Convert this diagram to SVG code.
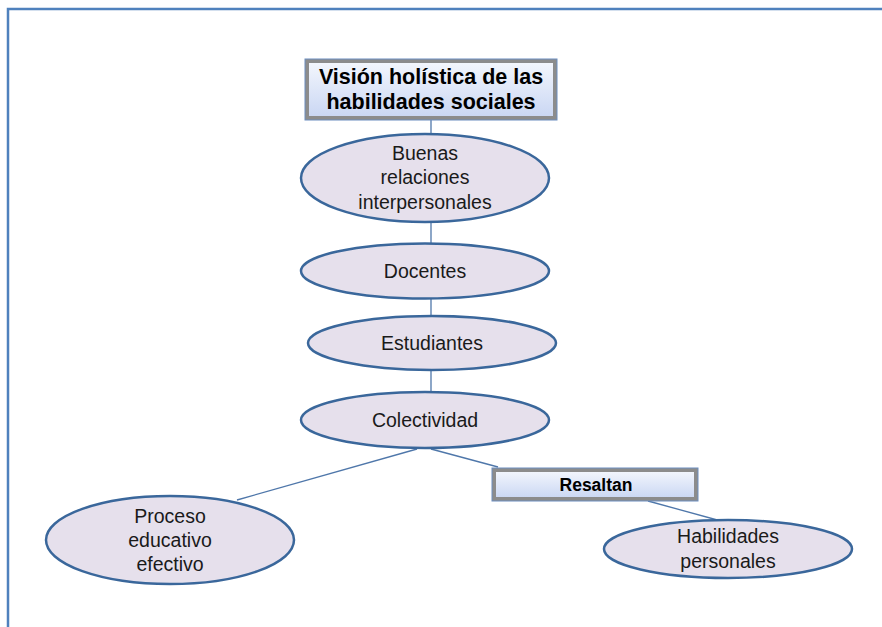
<svg xmlns="http://www.w3.org/2000/svg" width="882" height="627" viewBox="0 0 882 627">
<defs>
<linearGradient id="boxg" x1="0" y1="0" x2="0" y2="1">
<stop offset="0" stop-color="#f4f7fd"/>
<stop offset="1" stop-color="#c9d6f3"/>
</linearGradient>
<style>
.frame{fill:none;stroke:#4f81bd;stroke-width:2.5}
.ell{fill:#e6e0ec;stroke:#3a679b;stroke-width:2.5}
.box{fill:url(#boxg);stroke:#8c8c8c;stroke-width:4}
.boxin{fill:none;stroke:#6c8ebf;stroke-width:1}
.conn line{stroke:#4f77aa;stroke-width:1.3}
.t{font-family:"Liberation Sans",Arial,sans-serif;font-size:19.5px;fill:#1a1a1a;text-anchor:middle}
.tb{font-family:"Liberation Sans",Arial,sans-serif;font-weight:bold;fill:#000;text-anchor:middle}
</style>
</defs>
<rect width="882" height="627" fill="#fff"/>
<path class="frame" d="M8,627 V9 H882"/>
<g class="conn" id="connectors">
<line x1="431" y1="119" x2="431" y2="134"/>
<line x1="431" y1="222" x2="431" y2="244"/>
<line x1="431" y1="299" x2="431" y2="316"/>
<line x1="431" y1="370" x2="431" y2="393"/>
<line x1="417" y1="449" x2="237" y2="500"/>
<line x1="431" y1="449" x2="498" y2="467"/>
<line x1="648" y1="501" x2="721" y2="521"/>
</g>
<g id="title">
<rect class="box" x="307" y="61" width="248" height="57"/>
<rect class="boxin" x="305" y="59" width="252" height="61"/>
<text class="tb" font-size="21.5" x="431" y="84">Visión holística de las</text>
<text class="tb" font-size="21.5" x="431" y="109">habilidades sociales</text>
</g>
<g id="buenas">
<ellipse class="ell" cx="425" cy="178" rx="124" ry="44"/>
<text class="t" x="425" y="160">Buenas</text>
<text class="t" x="425" y="184">relaciones</text>
<text class="t" x="425" y="209">interpersonales</text>
</g>
<g id="docentes">
<ellipse class="ell" cx="425" cy="271" rx="124" ry="27.5"/>
<text class="t" x="425" y="278">Docentes</text>
</g>
<g id="estudiantes">
<ellipse class="ell" cx="432" cy="343" rx="124" ry="27"/>
<text class="t" x="432" y="350">Estudiantes</text>
</g>
<g id="colectividad">
<ellipse class="ell" cx="425" cy="420" rx="124" ry="28"/>
<text class="t" x="425" y="427">Colectividad</text>
</g>
<g id="resaltan">
<rect class="box" x="494" y="470" width="202" height="29"/>
<rect class="boxin" x="492" y="468" width="206" height="33"/>
<text class="tb" font-size="17.5" x="596" y="491">Resaltan</text>
</g>
<g id="proceso">
<ellipse class="ell" cx="170" cy="540" rx="124" ry="44"/>
<text class="t" x="170" y="523">Proceso</text>
<text class="t" x="170" y="547">educativo</text>
<text class="t" x="170" y="571">efectivo</text>
</g>
<g id="habilidades">
<ellipse class="ell" cx="728" cy="549" rx="124" ry="29"/>
<text class="t" x="728" y="543">Habilidades</text>
<text class="t" x="728" y="568">personales</text>
</g>
</svg>
